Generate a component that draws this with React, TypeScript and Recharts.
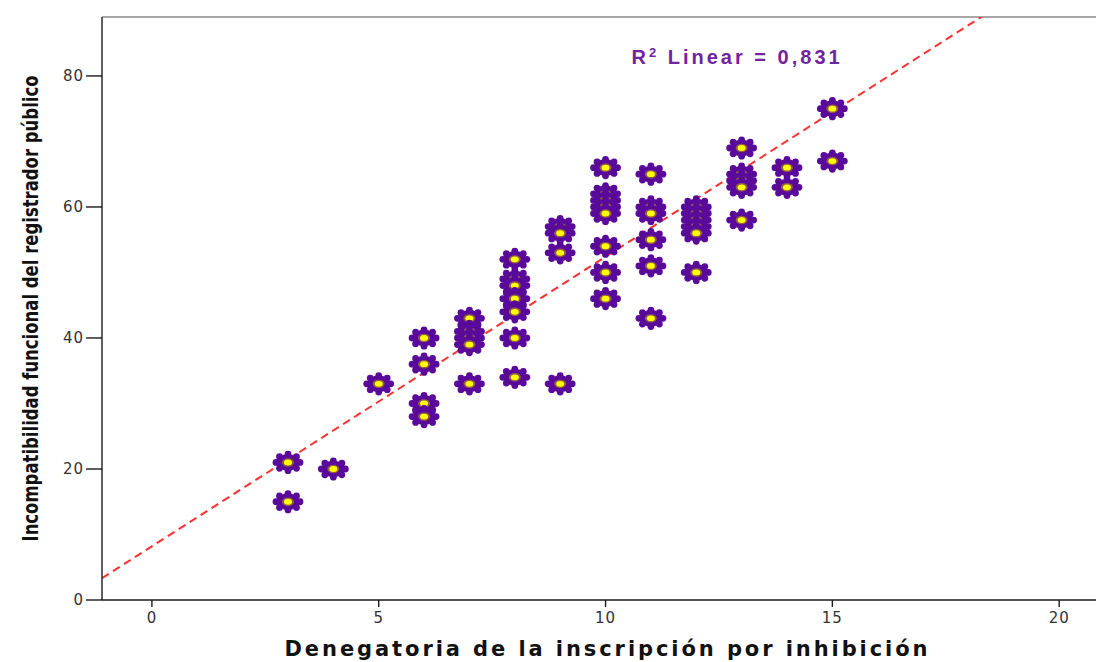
import { ScatterChart, Scatter, XAxis, YAxis, ReferenceLine, ReferenceDot, Label } from "recharts"

// Denegatoria score (x) and the Incompatibilidad scores observed at each x
const denegatoria = [3, 4, 5, 6, 7, 8, 9, 10, 11, 12, 13, 14, 15]
const incompatibilidad = [
  [21, 15],
  [20],
  [33],
  [40, 36, 30, 28],
  [43, 41, 40, 39, 33],
  [52, 49, 48, 46, 44, 40, 34],
  [57, 56, 53, 33],
  [66, 62, 61, 60, 59, 54, 50, 46],
  [65, 60, 59, 55, 51, 43],
  [60, 59, 58, 57, 56, 50],
  [69, 65, 64, 63, 58],
  [66, 63],
  [75, 67],
]

const xTicks = [0, 5, 10, 15, 20]
const yTicks = [0, 20, 40, 60, 80]
const xDomain: [number, number] = [-1.1, 20.9]
const yDomain: [number, number] = [0, 89]

// fit line
const fitIntercept = 8.2
const fitSlope = 4.42
const rSquared = "0,831"

const points = denegatoria.flatMap((x, i) => incompatibilidad[i].map((y) => ({ x, y })))

const PURPLE = "#5a0a9a"

const Flower = (props: any) => {
  const { cx, cy } = props
  if (cx == null || cy == null) return null
  const lobes = []
  for (let k = 0; k < 8; k++) {
    const a = (k * Math.PI) / 4
    lobes.push(<circle key={k} cx={cx + Math.cos(a) * 12} cy={cy + Math.sin(a) * 8.2} r={3.4} fill={PURPLE} />)
  }
  return (
    <g>
      <ellipse cx={cx} cy={cy} rx={11.5} ry={8.3} fill={PURPLE} />
      {lobes}
      <ellipse cx={cx} cy={cy} rx={6} ry={4.2} fill="#a8782a" opacity={0.75} />
      <ellipse cx={cx} cy={cy} rx={4} ry={2.9} fill="#ffff00" />
    </g>
  )
}

const tickStyle = { fontFamily: "DejaVu Sans", fontSize: 15, fill: "#333", letterSpacing: 1 }

export default function App() {
  return (
    <div style={{ position: "absolute", left: 0, top: 0, width: 1096, height: 662, overflow: "hidden", background: "#fff" }}>
      <ScatterChart width={1100} height={662} margin={{ top: 17, right: 0, bottom: 0, left: 0 }}>
        <XAxis
          type="number"
          dataKey="x"
          domain={xDomain}
          ticks={xTicks}
          allowDataOverflow
          height={62}
          tickSize={7}
          tickMargin={5}
          tick={tickStyle}
          axisLine={{ stroke: "#1a1a1a", strokeWidth: 1.4 }}
          tickLine={{ stroke: "#1a1a1a", strokeWidth: 1.4 }}
        >
          <Label
            content={(p: any) => {
              const vb = p.viewBox
              return (
                <text
                  x={vb.x + vb.width / 2 + 5}
                  y={656}
                  textAnchor="middle"
                  fontFamily="DejaVu Sans"
                  fontWeight="bold"
                  fontSize={21}
                  textLength={643}
                  lengthAdjust="spacing"
                  fill="#111"
                >
                  Denegatoria de la inscripción por inhibición
                </text>
              )
            }}
          />
        </XAxis>
        <YAxis
          type="number"
          dataKey="y"
          domain={yDomain}
          ticks={yTicks}
          allowDataOverflow
          width={102}
          tickSize={16}
          tickMargin={2}
          tick={tickStyle}
          axisLine={{ stroke: "#1a1a1a", strokeWidth: 1.4 }}
          tickLine={{ stroke: "#1a1a1a", strokeWidth: 1.4 }}
        >
          <Label
            content={(p: any) => {
              const vb = p.viewBox
              const cy = vb.y + vb.height / 2
              return (
                <g transform={`translate(38, ${cy}) rotate(-90)`}>
                  <text
                    x={0}
                    y={0}
                    textAnchor="middle"
                    fontFamily="Liberation Sans Narrow, DejaVu Sans Condensed, sans-serif"
                    fontWeight="bold"
                    fontSize={22}
                    textLength={466}
                    lengthAdjust="spacingAndGlyphs"
                    fill="#111"
                  >
                    Incompatibilidad funcional del registrador público
                  </text>
                </g>
              )
            }}
          />
        </YAxis>
        <ReferenceLine y={yDomain[1]} stroke="#8a8a8a" strokeWidth={1.6} />
        <ReferenceLine
          segment={[
            { x: xDomain[0], y: fitIntercept + fitSlope * xDomain[0] },
            { x: xDomain[1], y: fitIntercept + fitSlope * xDomain[1] },
          ]}
          ifOverflow="hidden"
          stroke="#ff3030"
          strokeWidth={2}
          strokeDasharray="8 5"
        />
        <Scatter data={points} shape={<Flower />} isAnimationActive={false} />
        <ReferenceDot
          x={12.9}
          y={82.9}
          r={0}
          stroke="none"
          label={(p: any) => {
            const vb = p.viewBox
            return (
              <text
                x={vb.x + vb.width / 2}
                y={vb.y + vb.height / 2 + 7}
                textAnchor="middle"
                fontFamily="Liberation Sans, Arial, sans-serif"
                fontWeight="bold"
                fontSize={20}
                letterSpacing={3}
                fill="#7024a0"
              >
                R<tspan fontSize={13} dy={-7}>2</tspan>
                <tspan dy={7}> Linear = {rSquared}</tspan>
              </text>
            )
          }}
        />
      </ScatterChart>
    </div>
  )
}
